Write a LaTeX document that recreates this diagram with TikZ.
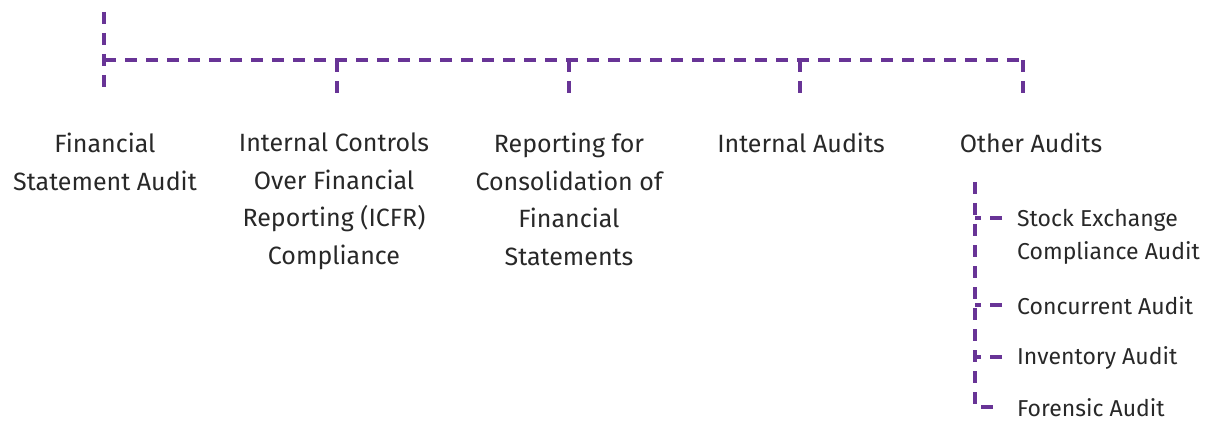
\documentclass[tikz,border=0pt]{standalone}
\usepackage{fontspec}
\setmainfont{Fira Sans}
\usetikzlibrary{positioning}
\definecolor{auditpurple}{RGB}{104,52,150}
\definecolor{audittext}{RGB}{40,40,40}

\begin{document}
\begin{tikzpicture}
    [
    x=1pt, y=-1pt,
    every tree line/.style={draw=auditpurple, line width=3.2pt, dash pattern=on 12pt off 9pt},
    every audit/.style={text=audittext, align=center, anchor=north, inner sep=0pt,
        font=\fontsize{25}{37.5}\selectfont},
    every subaudit/.style={text=audittext, align=left, anchor=west, inner sep=0pt,
        font=\fontsize{23}{33}\selectfont},
    ]
    \useasboundingbox (0,0) rectangle (1210,422);

    \coordinate (root_top) at (104,12);
    \coordinate (root_bot) at (104,94);
    \coordinate (join_fin) at (104,60);
    \coordinate (join_oth) at (1023,60);

    \node[every audit] (aud_fin) at (105,133) {Financial\\Statement Audit};
    \node[every audit] (aud_icfr) at (334,133) {Internal Controls\\Over Financial\\Reporting (ICFR)\\Compliance};
    \node[every audit] (aud_cons) at (569,133) {Reporting for\\Consolidation of\\Financial\\Statements};
    \node[every audit] (aud_int) at (801,133) {Internal Audits};
    \node[every audit] (aud_oth) at (1031,133) {Other Audits};

    \draw[every tree line] (root_top) -- (root_bot);
    \draw[every tree line] (join_fin) -- (join_oth);
    \foreach \x/\n in {337/icfr, 569/cons, 800/int, 1023/oth} {
        \draw[every tree line] (\x,60) coordinate (drop_\n) -- (\x,94);
    }

    % other audits, listed down the right side
    \node[every subaudit] (sub_stock) at (1017,237) {Stock Exchange\\Compliance Audit};
    \node[every subaudit] (sub_conc) at (1017,306) {Concurrent Audit};
    \node[every subaudit] (sub_inv) at (1017,358) {Inventory Audit};
    \node[every subaudit] (sub_for) at (1017,408) {Forensic Audit};

    \coordinate (trunk_top) at (975,182);
    \coordinate (trunk_bot) at (975,407);
    \draw[every tree line] (trunk_top) -- (trunk_bot) -- (1000,407);
    \foreach \y in {218, 305, 357} {
        \draw[every tree line] (1002,\y) -- (975,\y);
    }
\end{tikzpicture}
\end{document}
